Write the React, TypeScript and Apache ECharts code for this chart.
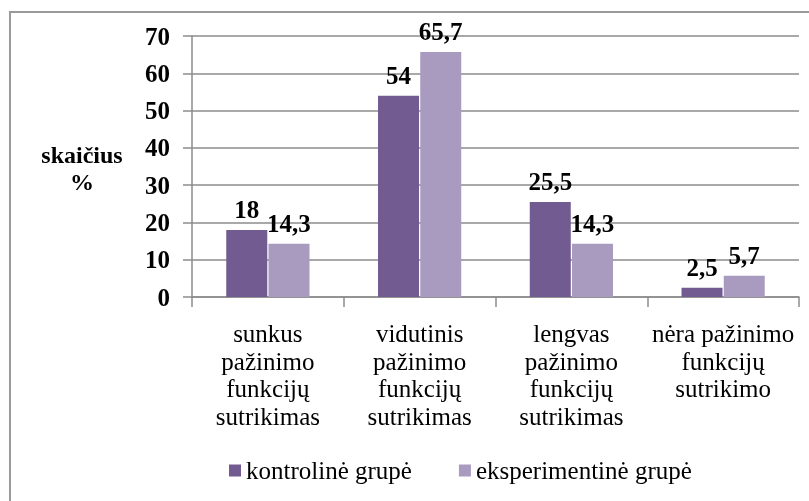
import React, { useEffect, useRef } from "react";
import * as echarts from "echarts";

const categories = [
  "sunkus\npažinimo\nfunkcijų\nsutrikimas",
  "vidutinis\npažinimo\nfunkcijų\nsutrikimas",
  "lengvas\npažinimo\nfunkcijų\nsutrikimas",
  "nėra pažinimo\nfunkcijų\nsutrikimo",
];
const seriesNames = ["kontrolinė grupė", "eksperimentinė grupė"];
const kontroline = [18, 54, 25.5, 2.5];
const eksperimentine = [14.3, 65.7, 14.3, 5.7];
const yTicks = { min: 0, max: 70, interval: 10 };
const yAxisTitle = "skaičius\n%";

const SERIF = "Liberation Serif";
const DARK = "#725B90";
const LIGHT = "#A99BC0";

export default function App() {
  const ref = useRef<HTMLDivElement>(null);
  useEffect(() => {
    if (!ref.current) return;
    const chart = echarts.init(ref.current, undefined, { renderer: "svg" });
    const fmt = (p: any) => String(p.value).replace(".", ",");
    const label = {
      show: true,
      position: "top",
      distance: 8,
      formatter: fmt,
      fontFamily: SERIF,
      fontWeight: "bold",
      fontSize: 25,
      color: "#000",
    };
    chart.setOption({
      animation: false,
      grid: { left: 192, right: 10, top: 36, bottom: 204, containLabel: false },
      legend: {
        left: 224,
        top: 453,
        itemWidth: 12,
        itemHeight: 12,
        itemGap: 47,
        icon: "rect",
        textStyle: { fontFamily: SERIF, fontSize: 25, color: "#000" },
        data: seriesNames,
      },
      graphic: [
        {
          type: "rect",
          shape: { x: 10, y: 12, width: 830, height: 520 },
          style: { fill: "none", stroke: "#9a9a9a", lineWidth: 2 },
          silent: true,
        },
        {
          type: "text",
          x: 82,
          y: 168,
          style: {
            text: yAxisTitle,
            fontFamily: SERIF,
            fontWeight: "bold",
            fontSize: 24,
            lineHeight: 27,
            fill: "#000",
            align: "center",
            verticalAlign: "middle",
          },
        },
      ],
      xAxis: {
        type: "category",
        data: categories,
        axisLine: { lineStyle: { color: "#8c8c8c", width: 1.5 } },
        axisTick: { show: true, length: 10, lineStyle: { color: "#8c8c8c", width: 1.5 } },
        axisLabel: {
          interval: 0,
          margin: 23,
          fontFamily: SERIF,
          fontSize: 25,
          lineHeight: 27.5,
          color: "#000",
          align: "center",
        },
      },
      yAxis: {
        type: "value",
        min: yTicks.min,
        max: yTicks.max,
        interval: yTicks.interval,
        axisLine: { show: true, lineStyle: { color: "#8c8c8c", width: 1.5 } },
        axisTick: { show: true, length: 9, lineStyle: { color: "#8c8c8c", width: 1.5 } },
        splitLine: { lineStyle: { color: "#8c8c8c", width: 1.5 } },
        axisLabel: {
          margin: 22,
          fontFamily: SERIF,
          fontWeight: "bold",
          fontSize: 25,
          color: "#000",
        },
      },
      series: [
        {
          name: seriesNames[0],
          type: "bar",
          data: kontroline,
          barWidth: 41,
          barGap: "3%",
          itemStyle: { color: DARK },
          label,
        },
        {
          name: seriesNames[1],
          type: "bar",
          data: eksperimentine,
          barWidth: 41,
          itemStyle: { color: LIGHT },
          label,
        },
      ],
    });
    return () => chart.dispose();
  }, []);
  return (
    <div
      ref={ref}
      style={{ position: "fixed", left: 0, top: 0, width: 809, height: 501 }}
    />
  );
}
